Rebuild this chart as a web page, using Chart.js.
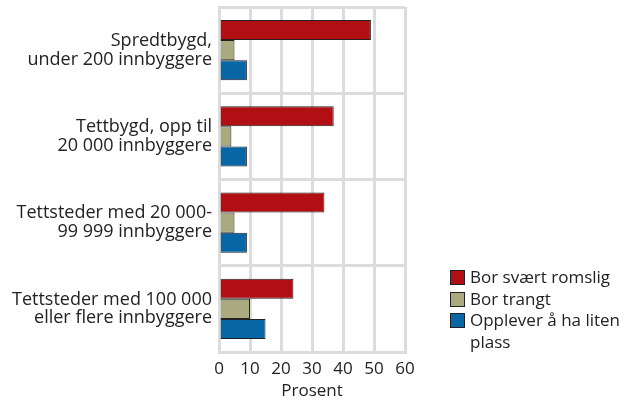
<!DOCTYPE html>
<html>
<head>
<meta charset="utf-8">
<script src="https://cdn.jsdelivr.net/npm/chart.js@4"></script>
<style>
    body { margin: 0; background: #fff; font-family: 'Open Sans', sans-serif; }
    #wrap { position: relative; width: 635px; height: 401px; }
    .legende { position: absolute; left: 450px; top: 266px; font-size: 17px; color: #222; line-height: 21.5px; }
    .legende div { position: relative; padding-left: 20px; width: 175px; }
    .legende span { position: absolute; left: 0; top: 4px; width: 15px; height: 15px; border: 1px solid #222; box-sizing: border-box; }
</style>
</head>
<body>
<div id="wrap">
    <canvas id="graphique" width="635" height="401"></canvas>
    <div class="legende" id="legende"></div>
</div>
<script>
const categories = [
    ['Spredtbygd,', 'under 200 innbyggere'],
    ['Tettbygd, opp til', '20 000 innbyggere'],
    ['Tettsteder med 20 000-', '99 999 innbyggere'],
    ['Tettsteder med 100 000', 'eller flere innbyggere'],
];
const series = ['Bor svært romslig', 'Bor trangt', 'Opplever å ha liten plass'];
const romslig = [49, 37, 34, 24];
const trangt = [5, 4, 5, 10];
const litenPlass = [9, 9, 9, 15];
const couleurs = ['#B10F14', '#A9AA80', '#0766A5'];

const data = {
    labels: categories,
    datasets: [romslig, trangt, litenPlass].map((valeurs, i) => ({
        label: series[i],
        data: valeurs,
        backgroundColor: couleurs[i],
        borderColor: '#222',
        borderWidth: 1,
        barPercentage: 1,
        categoryPercentage: 0.7,
    })),
};

new Chart(document.querySelector('#graphique'), {
    type: 'bar',
    data: data,
    options: {
        indexAxis: 'y',
        responsive: false,
        animation: false,
        layout: { padding: { top: 7, right: 230, left: 0, bottom: 0 } },
        plugins: { legend: { display: false }, tooltip: { enabled: false } },
        scales: {
            x: {
                min: 0,
                max: 60,
                ticks: { stepSize: 10, color: '#222', font: { family: 'Open Sans', size: 17 }, padding: 7 },
                grid: { color: '#dcdcdc', lineWidth: 3, drawTicks: false },
                border: { color: '#dcdcdc', width: 3 },
                title: { display: true, text: 'Prosent', color: '#222', font: { family: 'Open Sans', size: 17 }, padding: 0 },
                afterFit: function (scale) { scale.height = 49; },
            },
            y: {
                ticks: { color: '#222', font: { family: 'Open Sans', size: 18, lineHeight: 1.05 }, padding: 7 },
                grid: { color: '#dcdcdc', lineWidth: 3, offset: true, drawTicks: false },
                border: { color: '#dcdcdc', width: 3 },
                afterFit: function (scale) {
                    scale.width = 219;
                    scale.paddingTop = 0;
                    scale.paddingBottom = 0;
                },
            },
        },
    },
});

const legende = document.querySelector('#legende');
for (let i = 0; i < series.length; i++) {
    const ligne = document.createElement('div');
    ligne.innerHTML = `<span style="background:${couleurs[i]}"></span>${series[i]}`;
    legende.appendChild(ligne);
}
</script>
</body>
</html>
